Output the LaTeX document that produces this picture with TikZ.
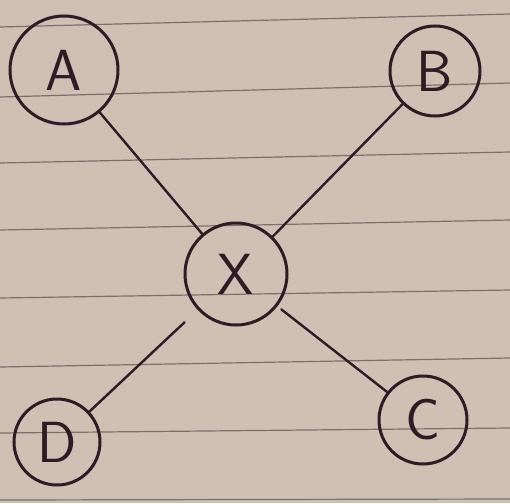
\documentclass[tikz,border=0pt]{standalone}
\usepackage{fontspec}
\begin{document}
\definecolor{paper}{RGB}{206,192,178}
\definecolor{rule}{RGB}{122,113,109}
\definecolor{ink}{RGB}{44,28,38}
\begin{tikzpicture}[x=1pt,y=-1pt,
  ring/.style={circle,draw=ink,line width=3pt,inner sep=0pt,
    font=\sffamily\fontsize{58}{58}\selectfont,text=ink},
  link/.style={draw=ink,line width=2.4pt,line cap=round}]
  % lined paper
  \fill[paper] (0,0) rectangle (510,503);
  \useasboundingbox (0,0) rectangle (510,503);
  \foreach \l/\r in {27/14,97/83,163/152,230/220,298/290,367/358,433/428,500/499}
    \draw[rule,line width=1.2pt] (0,\l) -- (510,\r);
  % nodes
  \node[ring,minimum size=108pt] (A) at (64,70) {A};
  \node[ring,minimum size=90pt]  (B) at (435,71) {B};
  \node[ring,minimum size=102pt] (X) at (236,274) {X};
  \node[ring,minimum size=86pt]  (D) at (57,442) {D};
  \node[ring,minimum size=88pt]  (C) at (423,420) {C};
  % connectors
  \draw[link] (A) -- (X);
  \draw[link] (B) -- (X);
  \draw[link,shorten <=18pt] (X) -- (D);
  \draw[link,shorten <=5pt] (X) -- (C);
\end{tikzpicture}
\end{document}
